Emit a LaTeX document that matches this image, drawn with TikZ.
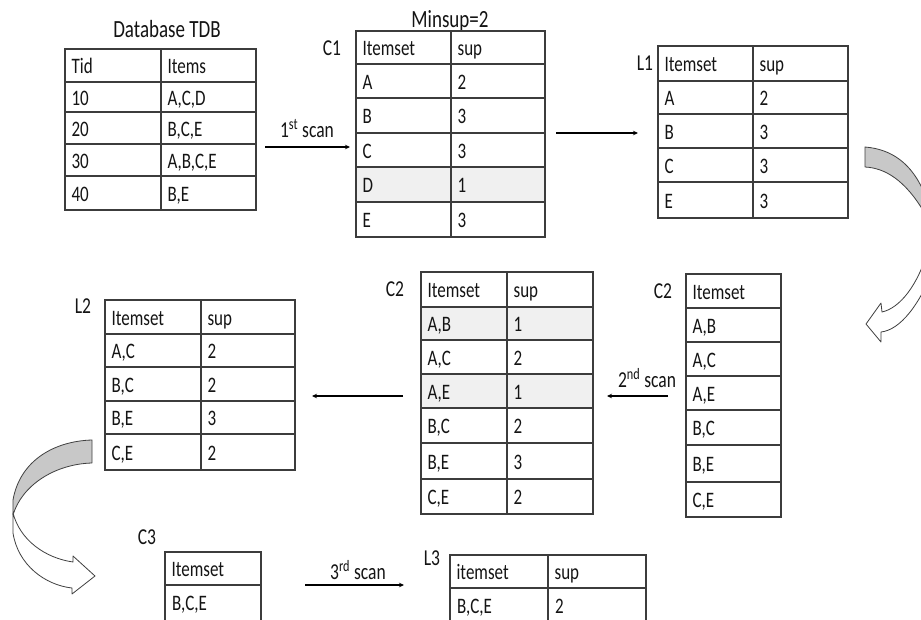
\documentclass[tikz,border=0pt]{standalone}
\usepackage{fontspec}
\setmainfont{Carlito}
\usetikzlibrary{arrows.meta}
\definecolor{linegray}{RGB}{60,60,60}
\definecolor{shadegray}{RGB}{240,240,240}
\definecolor{arrowgray}{RGB}{200,200,200}
\definecolor{textgray}{RGB}{20,20,20}
\newcommand\vs[1]{\scalebox{1}[1.3]{#1}}
\tikzset{
  cellbox/.style={draw=linegray, line width=1.2pt, rectangle, inner sep=0pt},
  shaded/.style={fill=shadegray},
  celltext/.style={anchor=west, inner sep=0pt, text=textgray, font=\fontsize{17}{20}\selectfont, text height=14pt, text depth=0pt},
  lbl/.style={inner sep=0pt, text=textgray, font=\fontsize{17.5}{20}\selectfont, text height=14.5pt, text depth=0pt},
  flow/.style={draw=black, line width=1.1pt, -{Stealth[length=5pt,width=4.5pt]}},
  bendline/.style={draw=black!75, line width=0.8pt, line join=round},
}
\newcommand\cell[7][]{%
  \node[cellbox,#1,minimum width={(#5-#3)*1pt},minimum height={(#6-#4)*1pt}] (#2) at ({(#3+#5)/2},{(#4+#6)/2}) {};
  \node[celltext] (#2t) at ([xshift=7pt,yshift=-1pt]#2.west) {\vs{#7}};
}
\begin{document}
\begin{tikzpicture}[x=1pt,y=-1pt]
\useasboundingbox (0,0) rectangle (921,619);
\fill[white] (0,0) rectangle (921,619);
\clip (0,0) rectangle (921,619);

% ---------- Database TDB ----------
\node[lbl, font=\fontsize{19}{22}\selectfont] (tdbtitle) at (167,30) {\vs{Database TDB}};
\cell{tdbA1}{65}{49}{161}{82}{Tid}      \cell{tdbA2}{161}{49}{256}{82}{Items}
\cell{tdbB1}{65}{82}{161}{112}{10}      \cell{tdbB2}{161}{82}{256}{112}{A,C,D}
\cell{tdbC1}{65}{112}{161}{144}{20}     \cell{tdbC2}{161}{112}{256}{144}{B,C,E}
\cell{tdbD1}{65}{144}{161}{176}{30}     \cell{tdbD2}{161}{144}{256}{176}{A,B,C,E}
\cell{tdbE1}{65}{176}{161}{210}{40}     \cell{tdbE2}{161}{176}{256}{210}{B,E}

% ---------- C1 ----------
\node[lbl, font=\fontsize{19}{22}\selectfont] (minsup) at (450,20) {\vs{Minsup=2}};
\node[lbl] (c1lbl) at (332,48) {\vs{C1}};
\cell{caA1}{356}{31}{451}{64}{Itemset}  \cell{caA2}{451}{31}{545}{64}{sup}
\cell{caB1}{356}{64}{451}{98}{A}        \cell{caB2}{451}{64}{545}{98}{2}
\cell{caC1}{356}{98}{451}{133}{B}       \cell{caC2}{451}{98}{545}{133}{3}
\cell{caD1}{356}{133}{451}{167}{C}      \cell{caD2}{451}{133}{545}{167}{3}
\cell[shaded]{caE1}{356}{167}{451}{202}{D} \cell[shaded]{caE2}{451}{167}{545}{202}{1}
\cell{caF1}{356}{202}{451}{237}{E}      \cell{caF2}{451}{202}{545}{237}{3}

% ---------- L1 ----------
\node[lbl] (l1lbl) at (645,63) {\vs{L1}};
\cell{laA1}{658}{46}{753}{81}{Itemset}  \cell{laA2}{753}{46}{848}{81}{sup}
\cell{laB1}{658}{81}{753}{114}{A}       \cell{laB2}{753}{81}{848}{114}{2}
\cell{laC1}{658}{114}{753}{148}{B}      \cell{laC2}{753}{114}{848}{148}{3}
\cell{laD1}{658}{148}{753}{182}{C}      \cell{laD2}{753}{148}{848}{182}{3}
\cell{laE1}{658}{182}{753}{218}{E}      \cell{laE2}{753}{182}{848}{218}{3}

% ---------- C2 (candidates, right) ----------
\node[lbl] (c2rlbl) at (663,291) {\vs{C2}};
\cell{crA}{686}{274}{781}{308}{Itemset}
\cell{crB}{686}{308}{781}{342}{A,B}
\cell{crC}{686}{342}{781}{376}{A,C}
\cell{crD}{686}{376}{781}{410}{A,E}
\cell{crE}{686}{410}{781}{445}{B,C}
\cell{crF}{686}{445}{781}{482}{B,E}
\cell{crG}{686}{482}{781}{517}{C,E}

% ---------- C2 (counted, middle) ----------
\node[lbl] (c2mlbl) at (395,289) {\vs{C2}};
\cell{cmA1}{421}{272}{507}{307}{Itemset} \cell{cmA2}{507}{272}{593}{307}{sup}
\cell[shaded]{cmB1}{421}{307}{507}{340}{A,B} \cell[shaded]{cmB2}{507}{307}{593}{340}{1}
\cell{cmC1}{421}{340}{507}{374}{A,C}     \cell{cmC2}{507}{340}{593}{374}{2}
\cell[shaded]{cmD1}{421}{374}{507}{408}{A,E} \cell[shaded]{cmD2}{507}{374}{593}{408}{1}
\cell{cmE1}{421}{408}{507}{443}{B,C}     \cell{cmE2}{507}{408}{593}{443}{2}
\cell{cmF1}{421}{443}{507}{479}{B,E}     \cell{cmF2}{507}{443}{593}{479}{3}
\cell{cmG1}{421}{479}{507}{514}{C,E}     \cell{cmG2}{507}{479}{593}{514}{2}

% ---------- L2 ----------
\node[lbl] (l2lbl) at (83,306) {\vs{L2}};
\cell{lbA1}{105}{300}{201}{334}{Itemset} \cell{lbA2}{201}{300}{295}{334}{sup}
\cell{lbB1}{105}{334}{201}{367}{A,C}     \cell{lbB2}{201}{334}{295}{367}{2}
\cell{lbC1}{105}{367}{201}{401}{B,C}     \cell{lbC2}{201}{367}{295}{401}{2}
\cell{lbD1}{105}{401}{201}{434}{B,E}     \cell{lbD2}{201}{401}{295}{434}{3}
\cell{lbE1}{105}{434}{201}{470}{C,E}     \cell{lbE2}{201}{434}{295}{470}{2}

% ---------- C3 ----------
\node[lbl] (c3lbl) at (147,537) {\vs{C3}};
\cell{ccA}{165}{552}{261}{585}{Itemset}
\cell{ccB}{165}{585}{261}{650}{}
\node[celltext] (ccBtext) at (172,603) {\vs{B,C,E}};

% ---------- L3 ----------
\node[lbl] (l3lbl) at (432,558) {\vs{L3}};
\cell{lcA1}{450}{555}{548}{588}{itemset} \cell{lcA2}{548}{555}{646}{588}{sup}
\cell{lcB1}{450}{588}{548}{650}{}        \cell{lcB2}{548}{588}{646}{650}{}
\node[celltext] (lcBtext1) at (457,606) {\vs{B,C,E}};
\node[celltext] (lcBtext2) at (555,606) {\vs{2}};

% ---------- straight arrows ----------
\coordinate (s1a) at (265,147); \coordinate (s1b) at (350,147);
\draw[flow] (s1a) -- (s1b);
\node[lbl] (s1lbl) at (307,130) {\vs{1\textsuperscript{st} scan}};

\coordinate (p1a) at (556,133); \coordinate (p1b) at (638,133);
\draw[flow] (p1a) -- (p1b);

\coordinate (s2a) at (668,396); \coordinate (s2b) at (607,396);
\draw[flow] (s2a) -- (s2b);
\node[lbl] (s2lbl) at (647,380) {\vs{2\textsuperscript{nd} scan}};

\coordinate (p2a) at (403,396); \coordinate (p2b) at (312,396);
\draw[flow] (p2a) -- (p2b);

\coordinate (s3a) at (305,585); \coordinate (s3b) at (404,585);
\draw[flow] (s3a) -- (s3b);
\node[lbl] (s3lbl) at (358,572) {\vs{3\textsuperscript{rd} scan}};

% ---------- curved block arrow, right ----------
\path[bendline, fill=arrowgray]
  (865,147) .. controls (890,149) and (912,162) .. (925,195)
  -- (924,212) .. controls (905,180) and (885,168) .. (865,167) -- cycle;
\path[bendline, fill=white]
  (935,265) .. controls (920,305) and (900,330) .. (881,332)
  -- (881,342) -- (866,324) -- (881,303) -- (882,312)
  .. controls (900,308) and (918,285) .. (928,250) -- cycle;

% ---------- curved block arrow, left ----------
\path[bendline, fill=arrowgray]
  (92,440) .. controls (55,441) and (20,460) .. (13,500)
  -- (13,515) .. controls (22,485) and (55,464) .. (92,463) -- cycle;
\path[bendline, fill=white]
  (13,513) .. controls (20,540) and (45,558) .. (73,562)
  -- (73,556) -- (95,576) -- (72,594) -- (72,588)
  .. controls (45,585) and (18,565) .. (13,533) -- cycle;
\end{tikzpicture}
\end{document}
